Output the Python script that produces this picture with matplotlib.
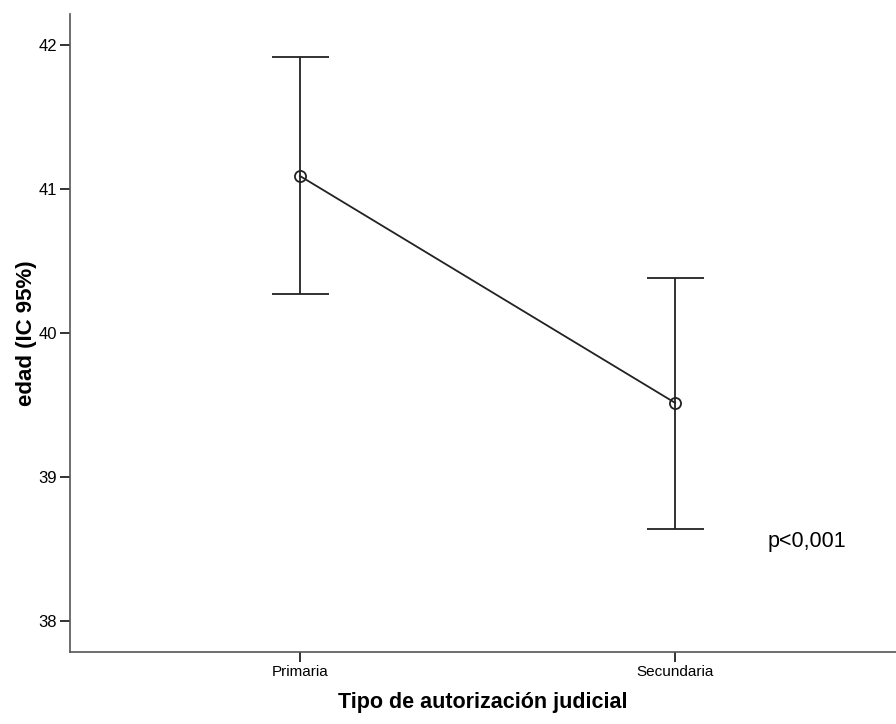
import matplotlib
matplotlib.use("Agg")
import matplotlib.pyplot as plt

categories = ["Primaria", "Secundaria"]
means = [41.09, 39.515]
ci_low = [40.272, 38.638]
ci_high = [41.915, 40.383]

plt.rcParams['font.family'] = ['Liberation Sans', 'DejaVu Sans']

fig = plt.figure(figsize=(8.96, 7.24), dpi=100)
ax = fig.add_axes([70/896, 1 - 652/724, 1 - 70/896, (652 - 14)/724])

x = list(range(len(categories)))
yerr = [[m - lo for m, lo in zip(means, ci_low)],
        [hi - m for m, hi in zip(means, ci_high)]]
ax.errorbar(x, means, yerr=yerr, fmt='none', ecolor='#222222',
            elinewidth=1.3, capsize=28.5 * 72 / 100, capthick=1.3)
ax.plot(x, means, color='#222222', lw=1.3, marker='o', ms=8,
        mfc='none', mec='#222222', mew=1.3, zorder=3)

ax.set_xlim(-0.6133, 1.589)
ax.set_ylim(37.785, 42.215)
ax.set_xticks(x)
ax.set_xticklabels(categories, fontsize=11)
ax.set_yticks([38, 39, 40, 41, 42])
ax.set_yticklabels(["38", "39", "40", "41", "42"], fontsize=12)

for side in ['top', 'right']:
    ax.spines[side].set_visible(False)
for side in ['left', 'bottom']:
    ax.spines[side].set_color('#555555')
    ax.spines[side].set_linewidth(1.2)
ax.tick_params(axis='both', direction='out', length=7.5, width=1.3,
               color='#222222', pad=2)

ax.set_ylabel("edad (IC 95%)", fontsize=16, fontweight='bold', labelpad=1)
ax.set_xlabel("Tipo de autorización judicial", fontsize=15.5,
              fontweight='bold', labelpad=9)

ax.text(1.246, 38.55, "p<0,001", fontsize=15.5, ha='left', va='center')

fig.savefig("out.png", dpi=100, facecolor='white')
